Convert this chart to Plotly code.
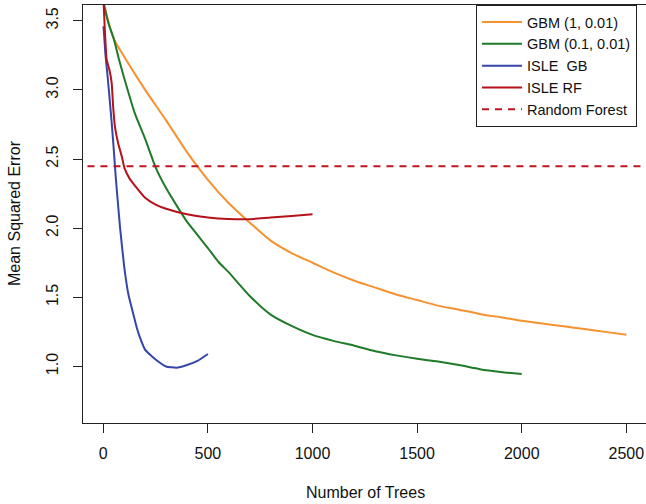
import plotly.graph_objects as go

# ---- data ----
gbm1_x = [1, 50, 100, 200, 300, 400, 500, 600, 700, 800, 900, 1000, 1100, 1200, 1300,
          1400, 1500, 1600, 1700, 1800, 1900, 2000, 2100, 2200, 2300, 2400, 2500]
gbm1_y = [3.63, 3.37, 3.24, 3.00, 2.78, 2.55, 2.35, 2.18, 2.04, 1.91, 1.82, 1.75, 1.68, 1.62,
          1.57, 1.52, 1.48, 1.44, 1.41, 1.38, 1.355, 1.33, 1.31, 1.29, 1.27, 1.25, 1.23]

gbm01_x = [1, 25, 50, 75, 100, 150, 200, 250, 300, 350, 400, 450, 500, 550, 600, 700, 800,
           900, 1000, 1100, 1200, 1300, 1400, 1500, 1600, 1700, 1800, 1900, 2000]
gbm01_y = [3.63, 3.48, 3.37, 3.22, 3.085, 2.834, 2.646, 2.44, 2.29, 2.165, 2.047, 1.951, 1.856,
           1.757, 1.68, 1.51, 1.375, 1.293, 1.228, 1.185, 1.15, 1.11, 1.08, 1.055, 1.035, 1.01,
           0.98, 0.96, 0.945]

isle_gb_x = [1, 10, 20, 30, 40, 50, 60, 70, 80, 100, 120, 140, 160, 180, 200, 250, 300, 350,
             400, 450, 500]
isle_gb_y = [3.46, 3.26, 3.107, 2.94, 2.765, 2.57, 2.36, 2.18, 2.006, 1.72, 1.52, 1.40, 1.28,
             1.19, 1.12, 1.05, 1.0, 0.99, 1.01, 1.04, 1.09]

isle_rf_x = [1, 8, 16, 30, 40, 48, 56, 70, 90, 100, 125, 150, 200, 250, 300, 400, 500, 600,
             700, 800, 900, 1000]
isle_rf_y = [3.65, 3.41, 3.22, 3.14, 3.05, 2.86, 2.73, 2.62, 2.51, 2.44, 2.36, 2.31, 2.22, 2.17,
             2.14, 2.10, 2.077, 2.066, 2.065, 2.078, 2.088, 2.10]

rf_x = [-200, 2800]
rf_y = [2.448, 2.448]

x_ticks = [0, 500, 1000, 1500, 2000, 2500]
y_ticks = [1.0, 1.5, 2.0, 2.5, 3.0, 3.5]

FONT = "Liberation Sans, Arial, Helvetica, sans-serif"

W, H = 646, 504
ML, MR, MT, MB = 83, 0, 5, 81

fig = go.Figure()
fig.add_trace(go.Scatter(x=gbm1_x, y=gbm1_y, mode="lines", name="GBM (1, 0.01)",
                         line=dict(color="#F5922F", width=2, shape="spline", smoothing=0.7)))
fig.add_trace(go.Scatter(x=gbm01_x, y=gbm01_y, mode="lines", name="GBM (0.1, 0.01)",
                         line=dict(color="#1F7A2A", width=2, shape="spline", smoothing=0.6)))
fig.add_trace(go.Scatter(x=isle_gb_x, y=isle_gb_y, mode="lines", name="ISLE  GB",
                         line=dict(color="#3646A8", width=2, shape="spline", smoothing=0.4)))
fig.add_trace(go.Scatter(x=isle_rf_x, y=isle_rf_y, mode="lines", name="ISLE RF",
                         line=dict(color="#B5121B", width=2, shape="spline", smoothing=0.4)))
fig.add_trace(go.Scatter(x=rf_x, y=rf_y, mode="lines", name="Random Forest",
                         line=dict(color="#C0141E", width=2, dash="7px,6px")))

pw = W - ML - MR
ph = H - MT - MB

fig.update_layout(
    width=W, height=H,
    margin=dict(l=ML, r=MR, t=MT, b=MB, autoexpand=False),
    paper_bgcolor="white", plot_bgcolor="white",
    font=dict(family=FONT, size=16, color="#111"),
    showlegend=True,
    legend=dict(x=(476 - ML) / pw, y=1, xanchor="left", yanchor="top",
                bordercolor="#222", borderwidth=1, bgcolor="white",
                font=dict(size=14.5), tracegroupgap=0, itemwidth=40),
    xaxis=dict(range=[-97, 2594], tickvals=x_ticks, ticktext=[str(v) for v in x_ticks],
               showgrid=False, zeroline=False, showline=True, linecolor="#222", linewidth=1,
               mirror=True, ticks="outside", ticklen=9, tickcolor="#222",
               ticklabelstandoff=7, automargin=False),
    yaxis=dict(range=[0.591, 3.614], tickvals=y_ticks, ticktext=[f"{v:.1f}" for v in y_ticks],
               showgrid=False, zeroline=False, showline=True, linecolor="#222", linewidth=1,
               ticks="outside", ticklen=9, tickcolor="#222", tickangle=-90,
               ticklabelstandoff=9, automargin=False),
    annotations=[
        dict(text="Number of Trees", xref="paper", yref="paper",
             x=(365 - ML) / pw, y=-(492 - (MT + ph)) / ph,
             xanchor="center", yanchor="middle", showarrow=False, font=dict(size=16)),
        dict(text="Mean Squared Error", xref="paper", yref="paper",
             x=-(ML - 14) / pw, y=(MT + ph - 213) / ph, textangle=-90,
             xanchor="center", yanchor="middle", showarrow=False, font=dict(size=16)),
    ],
)

fig.write_html("out.html", config={"displayModeBar": False},
               post_script="document.body.style.margin='0';")
